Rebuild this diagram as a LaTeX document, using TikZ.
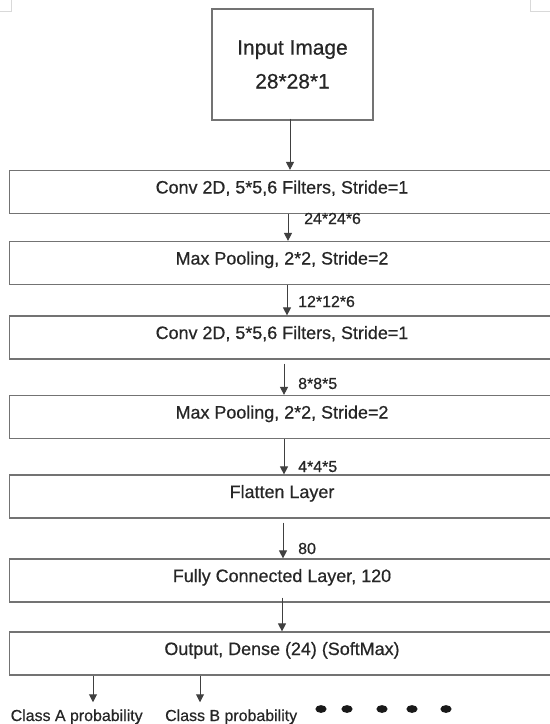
\documentclass[tikz,border=0pt]{standalone}
\usepackage{fontspec}
\setmainfont{Liberation Sans}[FakeBold=0.6]
\usetikzlibrary{arrows.meta}

\begin{document}
\begin{tikzpicture}[x=1bp, y=-1bp,
    layer/.style={draw=black!55, line width=1.2bp, minimum width=545bp, minimum height=43bp,
        inner sep=0pt, text height=13bp, text depth=10bp, text=black!85,
        font=\fontsize{18}{21}\selectfont},
    inbox/.style={draw=black!55, line width=1.2bp, minimum width=161bp, minimum height=111bp,
        align=center, text=black!85, font=\fontsize{21}{34}\selectfont},
    dims/.style={anchor=base west, inner sep=0pt, text=black!85, font=\fontsize{16}{19}\selectfont},
    cls/.style={anchor=base west, inner sep=0pt, text=black!85, font=\fontsize{16}{19}\selectfont},
    arr/.style={draw=black!75, line width=1bp, -{Triangle[width=8bp,length=8bp]}}
]
            \useasboundingbox (0,0) rectangle (550,724);

            % Corner marks
            \draw[black!15] (11,0) -- (11,11) -- (0,11);
            \draw[black!15] (530,0) -- (530,11) -- (550,11);

            % Layers
            \node[inbox] (input) at (292.5,64.5) {Input Image\\28*28*1};
            \node[layer] (conv1) at (282,192) {Conv 2D, 5*5,6 Filters, Stride=1};
            \node[layer] (pool1) at (282,263) {Max Pooling, 2*2, Stride=2};
            \node[layer] (conv2) at (282,337.5) {Conv 2D, 5*5,6 Filters, Stride=1};
            \node[layer] (pool2) at (282,417) {Max Pooling, 2*2, Stride=2};
            \node[layer] (flat) at (282,496.5) {Flatten Layer};
            \node[layer] (fc) at (282,580.5) {Fully Connected Layer, 120};
            \node[layer] (out) at (282,653.5) {Output, Dense (24) (SoftMax)};

            % Sizes
            \node[dims] (d1) at (304,224) {24*24*6};
            \node[dims] (d2) at (298,307) {12*12*6};
            \node[dims] (d3) at (298,389) {8*8*5};
            \node[dims] (d4) at (298,472) {4*4*5};
            \node[dims] (d5) at (298,554) {80};

            % Arrows
            \draw[arr, shorten <=-2bp] (290,0 |- input.south) -- (290,0 |- conv1.north);
            \draw[arr] (288,0 |- conv1.south) -- (288,0 |- pool1.north);
            \draw[arr] (287,0 |- pool1.south) -- (287,0 |- conv2.north);
            \draw[arr, shorten <=4bp] (284,0 |- conv2.south) -- (284,0 |- pool2.north);
            \draw[arr] (284,0 |- pool2.south) -- (284,0 |- flat.north);
            \draw[arr, shorten <=4bp] (283,0 |- flat.south) -- (283,0 |- fc.north);
            \draw[arr, shorten <=-5bp] (282,0 |- fc.south) -- (282,0 |- out.north);

            % Outputs
            \node[cls] (clsA) at (10.5,721) {Class A probability};
            \node[cls] (clsB) at (165,721) {Class B probability};
            \draw[arr, shorten >=7bp] (93,0 |- out.south) -- (93,0 |- clsA.north);
            \draw[arr, shorten >=7bp] (200,0 |- out.south) -- (200,0 |- clsB.north);
            \foreach \x in {321,347,382,412,446}
                \fill[black!90] (\x,709) ellipse (5.6 and 3.9);

        \end{tikzpicture}
\end{document}
